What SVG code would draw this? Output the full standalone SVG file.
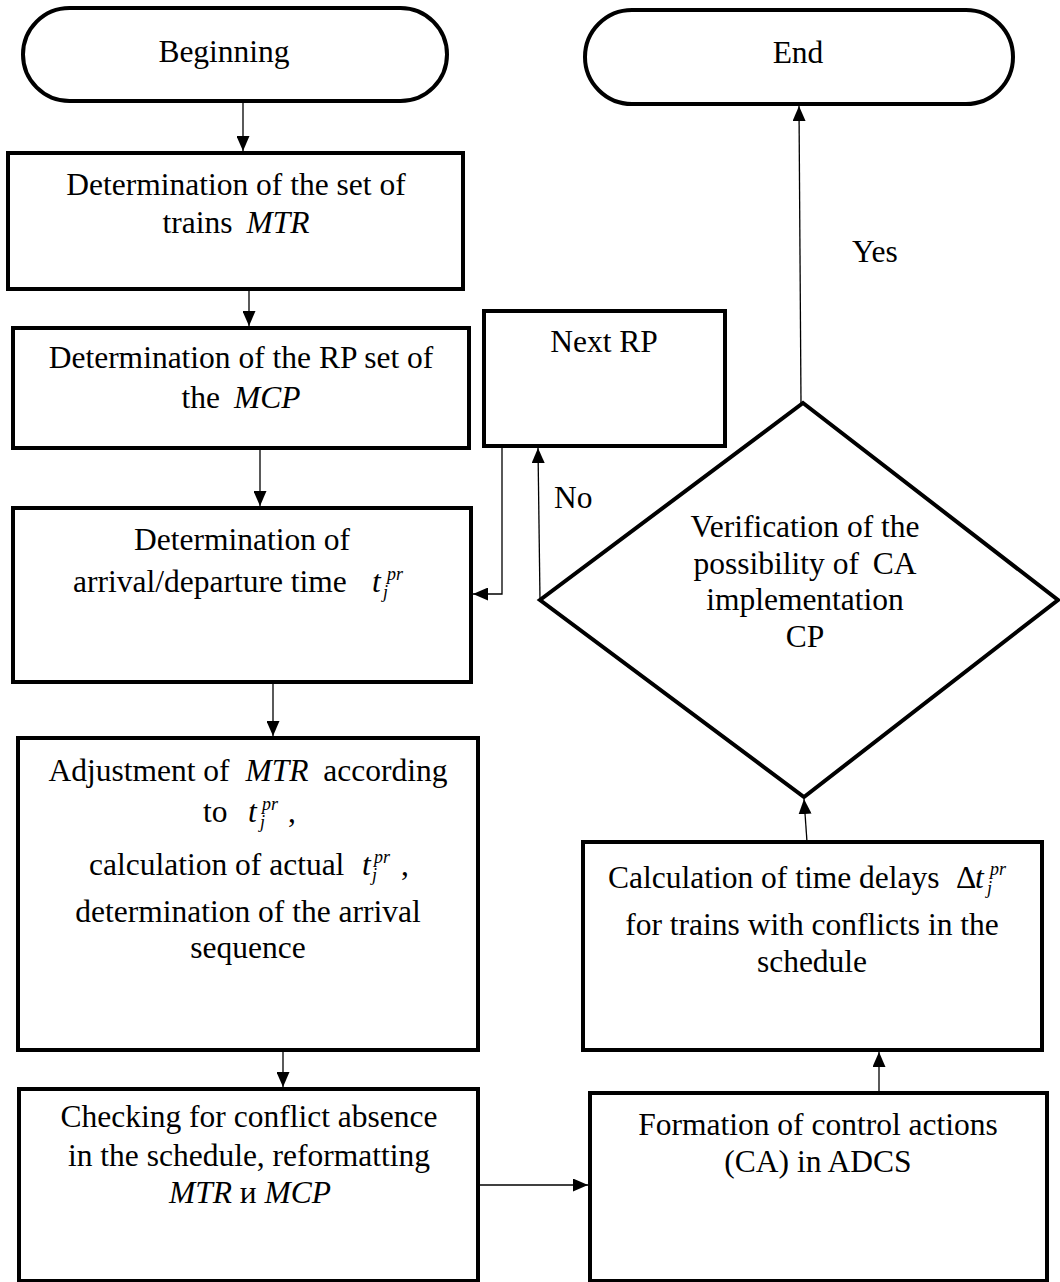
<svg xmlns="http://www.w3.org/2000/svg" width="1060" height="1282" viewBox="0 0 1060 1282">
<style>
.n{fill:#fff;stroke:#000;stroke-width:4}
.c{fill:none;stroke:#000;stroke-width:1.3}
text{font-family:"Liberation Serif","Times New Roman",serif;font-size:31.5px;fill:#000}
.m{text-anchor:middle}
.i{font-style:italic}
.s{font-style:italic;font-size:18px}
</style>
<defs>
<marker id="ah" markerWidth="15" markerHeight="13" refX="15" refY="6.5" orient="auto" markerUnits="userSpaceOnUse"><path d="M0,0 L15,6.5 L0,13 z" fill="#000"/></marker>
</defs>
<rect width="1060" height="1282" fill="#fff"/>
<g id="connectors">
<line class="c" x1="243" y1="101" x2="243" y2="151" marker-end="url(#ah)"/>
<line class="c" x1="249" y1="289" x2="249" y2="326" marker-end="url(#ah)"/>
<line class="c" x1="260" y1="448" x2="260" y2="506" marker-end="url(#ah)"/>
<line class="c" x1="273" y1="682" x2="273" y2="736" marker-end="url(#ah)"/>
<line class="c" x1="283" y1="1050" x2="283" y2="1087" marker-end="url(#ah)"/>
<line class="c" x1="478" y1="1185" x2="588" y2="1185" marker-end="url(#ah)"/>
<line class="c" x1="879" y1="1093" x2="879" y2="1052" marker-end="url(#ah)"/>
<line class="c" x1="807" y1="842" x2="804" y2="799" marker-end="url(#ah)"/>
<line class="c" x1="801" y1="403" x2="799" y2="106" marker-end="url(#ah)"/>
<line class="c" x1="540" y1="600" x2="538" y2="448" marker-end="url(#ah)"/>
<polyline class="c" points="502,446 502,594 473,594" marker-end="url(#ah)"/>
<text x="852" y="262">Yes</text>
<text x="554" y="508">No</text>
</g>
<g id="begin">
<rect class="n" x="23" y="8" width="424" height="93" rx="46.5"/>
<text class="m" x="224" y="62">Beginning</text>
</g>
<g id="end">
<rect class="n" x="585" y="10" width="428" height="94" rx="47"/>
<text class="m" x="798" y="63">End</text>
</g>
<g id="set-trains">
<rect class="n" x="8" y="153" width="455" height="136"/>
<text class="m" x="236" y="195">Determination of the set of</text>
<text class="m" x="236" y="233">trains <tspan class="i" dx="6">MTR</tspan></text>
</g>
<g id="set-rp">
<rect class="n" x="13" y="328" width="456" height="120"/>
<text class="m" x="241" y="368">Determination of the RP set of</text>
<text class="m" x="241" y="408">the <tspan class="i" dx="6">MCP</tspan></text>
</g>
<g id="arrival-time">
<rect class="n" x="13" y="508" width="458" height="174"/>
<text class="m" x="242" y="550">Determination of</text>
<text x="73" y="592">arrival/departure time</text>
<text class="i" x="372" y="592">t</text>
<text class="s" x="387" y="580">pr</text>
<text class="s" x="383" y="598">j</text>
</g>
<g id="adjustment">
<rect class="n" x="18" y="738" width="460" height="312"/>
<text class="m" x="248" y="781">Adjustment of <tspan class="i" dx="8">MTR</tspan> <tspan dx="7">according</tspan></text>
<text x="203" y="822">to</text>
<text class="i" x="248" y="822">t</text>
<text class="s" x="262" y="810">pr</text>
<text class="s" x="260" y="828">j</text>
<text x="288" y="822">,</text>
<text x="89" y="875">calculation of actual</text>
<text class="i" x="362" y="875">t</text>
<text class="s" x="374" y="863">pr</text>
<text class="s" x="372" y="881">j</text>
<text x="401" y="875">,</text>
<text class="m" x="248" y="922">determination of the arrival</text>
<text class="m" x="248" y="958">sequence</text>
</g>
<g id="checking">
<rect class="n" x="19" y="1089" width="459" height="192"/>
<text class="m" x="249" y="1127">Checking for conflict absence</text>
<text class="m" x="249" y="1166">in the schedule, reformatting</text>
<text class="m" x="250" y="1203"><tspan class="i">MTR</tspan> и <tspan class="i">MCP</tspan></text>
</g>
<g id="next-rp">
<rect class="n" x="484" y="311" width="241" height="135"/>
<text class="m" x="604" y="352">Next RP</text>
</g>
<g id="verification">
<polygon class="n" points="803,403 1058,600 804,797 540,600"/>
<text class="m" x="805" y="537">Verification of the</text>
<text class="m" x="805" y="574">possibility of <tspan dx="6">CA</tspan></text>
<text class="m" x="805" y="610">implementation</text>
<text class="m" x="805" y="647">CP</text>
</g>
<g id="delays">
<rect class="n" x="583" y="842" width="459" height="208"/>
<text x="608" y="888">Calculation of time delays</text>
<text x="956" y="888">Δ</text>
<text class="i" x="975" y="888">t</text>
<text class="s" x="990" y="875">pr</text>
<text class="s" x="987" y="894">j</text>
<text class="m" x="812" y="935">for trains with conflicts in the</text>
<text class="m" x="812" y="972">schedule</text>
</g>
<g id="formation">
<rect class="n" x="590" y="1093" width="457" height="188"/>
<text class="m" x="818" y="1135">Formation of control actions</text>
<text class="m" x="818" y="1172">(CA) in ADCS</text>
</g>
</svg>
